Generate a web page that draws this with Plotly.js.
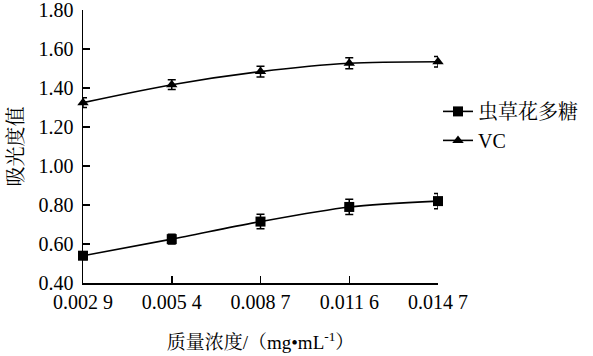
<!DOCTYPE html>
<html>
<head>
<meta charset="utf-8">
<script src="https://cdn.plot.ly/plotly-3.0.1.min.js"></script>
<style>html,body{margin:0;padding:0;background:#fff;}#chart{width:593px;height:356px;}</style>
</head>
<body>
<div id="chart"></div>
<script>
var categories = ["0.002 9", "0.005 4", "0.008 7", "0.011 6", "0.014 7"];
var polyName = "虫草花多糖";
var polyValues = [0.54, 0.625, 0.715, 0.79, 0.82];
var polyErrors = [0.02, 0.025, 0.037, 0.039, 0.039];
var vcName = "VC";
var vcValues = [1.325, 1.417, 1.484, 1.527, 1.535];
var vcErrors = [0.025, 0.025, 0.028, 0.028, 0.027];
var yTicks = [0.40, 0.60, 0.80, 1.00, 1.20, 1.40, 1.60, 1.80];

var FONT = "Times New Roman, Liberation Serif, Noto Serif CJK SC, Noto Sans CJK SC, serif";

function series(name, vals, errs, symbol) {
  return {
    type: 'scatter', mode: 'lines+markers', name: name,
    x: categories, y: vals,
    line: {color: '#000', width: 1.6, shape: 'spline', smoothing: 0.8},
    marker: {symbol: symbol, size: 10, color: '#000'},
    error_y: {type: 'data', array: errs, visible: true, color: '#000', thickness: 1.5, width: 4},
    cliponaxis: false
  };
}

var data = [
  series(polyName, polyValues, polyErrors, 'square'),
  series(vcName, vcValues, vcErrors, 'triangle-up')
];

var layout = {
  width: 593, height: 356,
  margin: {l: 83, r: 155, t: 10, b: 73},
  paper_bgcolor: '#fff', plot_bgcolor: '#fff',
  font: {family: FONT, size: 20, color: '#000'},
  showlegend: true,
  legend: {x: 1.0, y: 0.70, xanchor: 'left', yanchor: 'top', font: {family: FONT, size: 20, color: '#000'}, bgcolor: 'rgba(0,0,0,0)', tracegroupgap: 0},
  xaxis: {
    type: 'category', range: [0, 4],
    showline: true, linecolor: '#000', linewidth: 1.5,
    ticks: 'inside', ticklen: 7, tickwidth: 1.5, tickcolor: '#000',
    showgrid: false, zeroline: false,
    tickfont: {family: FONT, size: 20},
    title: {text: '质量浓度/（mg•mL<sup>-1</sup>）', font: {family: FONT, size: 19}, standoff: 24}
  },
  yaxis: {
    range: [0.40, 1.80], tickvals: yTicks, tickformat: '.2f',
    showline: true, linecolor: '#000', linewidth: 1.5,
    ticks: 'inside', ticklen: 7, tickwidth: 1.5, tickcolor: '#000',
    showgrid: false, zeroline: false,
    ticklabeloverflow: 'allow', ticklabelstandoff: 4,
    tickfont: {family: FONT, size: 20},
    title: {text: '吸光度值', font: {family: FONT, size: 20}, standoff: 9}
  }
};

Plotly.newPlot('chart', data, layout, {displayModeBar: false, staticPlot: true});
</script>
</body>
</html>
